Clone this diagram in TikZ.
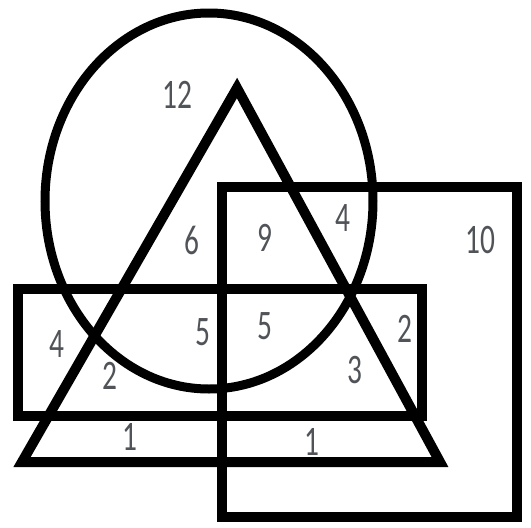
\documentclass[tikz,border=0pt]{standalone}
\usepackage{fontspec}
\setmainfont{Carlito}
\usepackage{tikz}
\usetikzlibrary{calc,positioning}
\definecolor{labelgray}{RGB}{80,83,88}
\newcommand{\narrow}[1]{\scalebox{0.7}[1]{#1}}
\tikzset{
    outline/.style={draw, line width=10pt, line join=miter},
    roundline/.style={draw, line width=9pt},
    count/.style={font=\fontsize{42}{42}\selectfont, text=labelgray, inner sep=0pt}
}

\begin{document}
\begin{tikzpicture}[x=1pt, y=-1pt]
    \useasboundingbox (0,0) rectangle (531,528);

    % shapes
    \draw[roundline] (209,201) ellipse [x radius=164, y radius=188];
    \draw[outline] (237,88) -- (440,462) -- (22,462) -- cycle;
    \draw[outline] (222,187) rectangle (517,517);
    \draw[outline] (18,289) rectangle (422,416);

    % counts
    \node[count] (c12) at (177,95) {\narrow{12}};
    \node[count] (c6) at (192,240) {\narrow{6}};
    \node[count] (c9) at (265,238) {\narrow{9}};
    \node[count] (c4a) at (343,218) {\narrow{4}};
    \node[count] (c10) at (480,240) {\narrow{10}};
    \node[count] (c4b) at (57,344) {\narrow{4}};
    \node[count] (c2a) at (110,376) {\narrow{2}};
    \node[count] (c5a) at (203,332) {\narrow{5}};
    \node[count] (c5b) at (265,326) {\narrow{5}};
    \node[count] (c2b) at (405,329) {\narrow{2}};
    \node[count] (c3) at (355,370) {\narrow{3}};
    \node[count] (c1a) at (130,437) {\narrow{1}};
    \node[count] (c1b) at (312,442) {\narrow{1}};
\end{tikzpicture}
\end{document}
